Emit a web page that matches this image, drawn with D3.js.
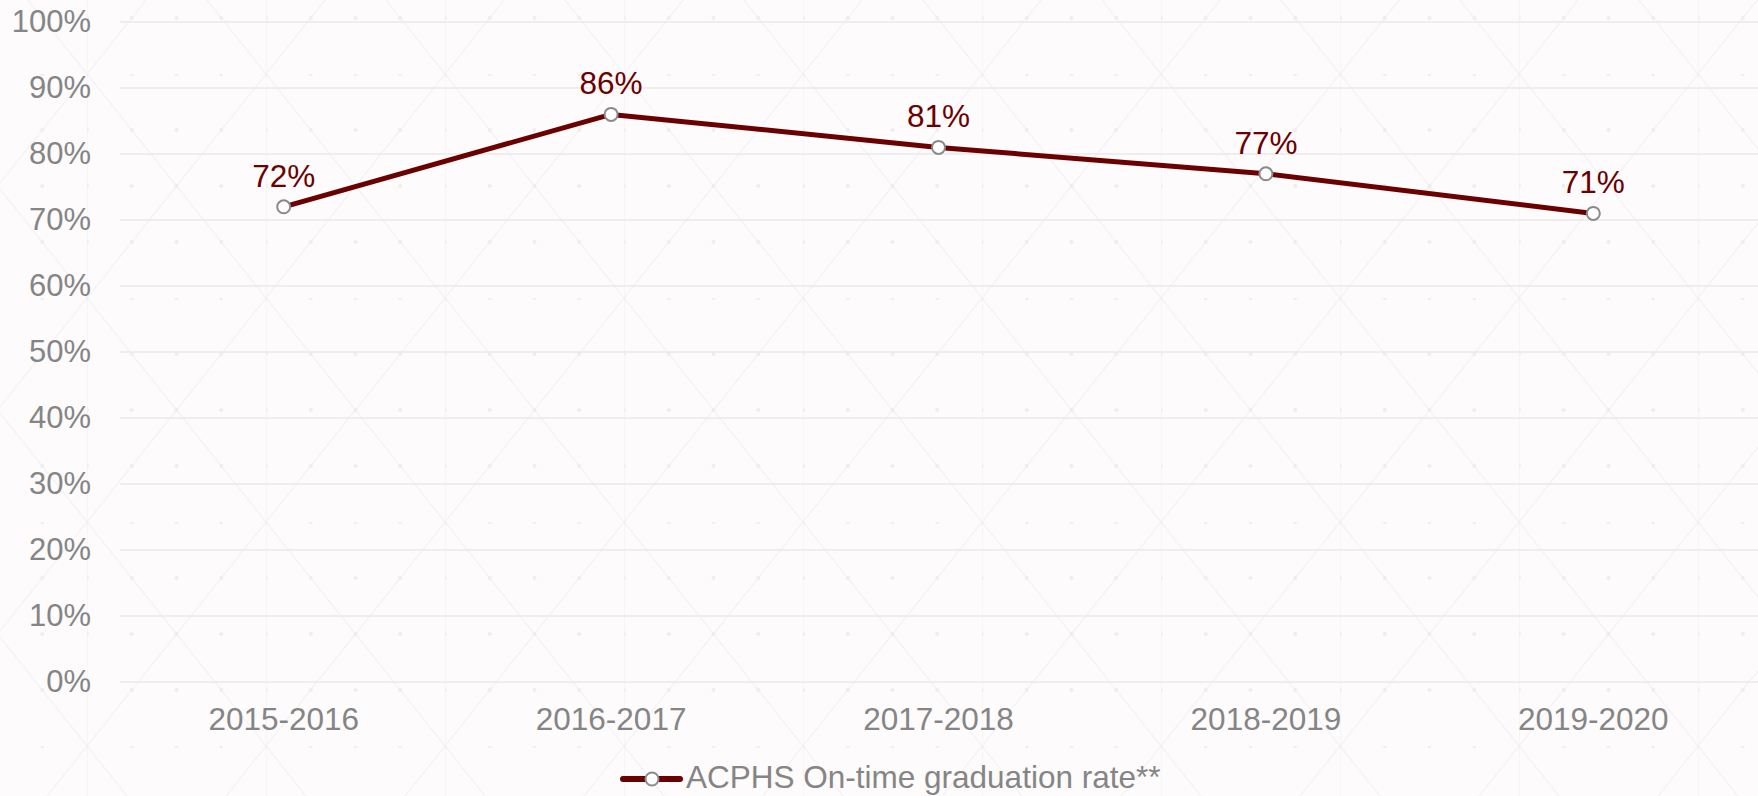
<!DOCTYPE html>
<html lang="en">
<head>
    <meta charset="UTF-8">
    <title>ACPHS On-time graduation rate</title>
    <script src="https://d3js.org/d3.v7.min.js"></script>
    <style>
        html, body { margin: 0; padding: 0; background: #fdfbfc; }
        svg { display: block; font-family: "Liberation Sans", Arial, sans-serif; }
    </style>
</head>
<body>
    <svg width="1758" height="796"></svg>
    <script>
        // data
        const years = ["2015-2016", "2016-2017", "2017-2018", "2018-2019", "2019-2020"];
        const rates = [72, 86, 81, 77, 71];
        const yTicks = [0, 10, 20, 30, 40, 50, 60, 70, 80, 90, 100];
        const seriesName = "ACPHS On-time graduation rate**";

        const svg = d3.select("svg"),
              W = +svg.attr("width"),
              H = +svg.attr("height"),
              margin = {top: 22, right: 1, bottom: 114, left: 120};

        const lineColor = "#6b0000",
              textGray = "#858585";

        // faint decorative background
        const defs = svg.append("defs");
        const pat = defs.append("pattern")
            .attr("id", "bgpat")
            .attr("patternUnits", "userSpaceOnUse")
            .attr("x", 87).attr("y", 74)
            .attr("width", 179).attr("height", 224);
        pat.append("rect").attr("width", 179).attr("height", 224).attr("fill", "#fdfbfc");
        pat.append("path")
            .attr("d", "M0,0L179,224M179,0L0,224M0,0V224")
            .attr("stroke", "#f5f2f5").attr("stroke-width", 1.2).attr("fill", "none");
        for (let i = 0; i < 4; i++) {
            for (let j = 0; j < 4; j++) {
                pat.append("circle")
                    .attr("cx", i * 44.75).attr("cy", j * 56)
                    .attr("r", 2).attr("fill", "#f0edf0");
            }
        }
        svg.append("rect").attr("width", W).attr("height", H).attr("fill", "url(#bgpat)");

        const x = d3.scaleBand()
            .domain(years)
            .range([margin.left, W - margin.right]);

        const y = d3.scaleLinear()
            .domain([0, 100])
            .range([H - margin.bottom, margin.top]);

        // grid lines
        svg.append("g")
            .selectAll("line")
            .data(yTicks)
            .join("line")
            .attr("x1", margin.left)
            .attr("x2", W)
            .attr("y1", d => y(d))
            .attr("y2", d => y(d))
            .attr("stroke", "#ebe9eb")
            .attr("stroke-width", 1.5);

        // y axis labels
        const yAxis = d3.axisLeft(y).tickValues(yTicks).tickFormat(d => d + "%").tickSize(0).tickPadding(29);
        const gy = svg.append("g")
            .attr("transform", `translate(${margin.left},0)`)
            .call(yAxis);
        gy.select(".domain").remove();
        gy.selectAll("text")
            .attr("fill", textGray)
            .style("font-size", "31px")
            .style("font-family", "'Liberation Sans', Arial, sans-serif");

        // x axis labels
        const xAxis = d3.axisBottom(x).tickSize(0).tickPadding(26);
        const gx = svg.append("g")
            .attr("transform", `translate(0,${H - margin.bottom})`)
            .call(xAxis);
        gx.select(".domain").remove();
        gx.selectAll("text")
            .attr("fill", textGray)
            .style("font-size", "31.5px")
            .style("font-family", "'Liberation Sans', Arial, sans-serif");

        const cx = d => x(d) + x.bandwidth() / 2;

        // series line
        const line = d3.line()
            .x((d, i) => cx(years[i]))
            .y(d => y(d));

        svg.append("path")
            .datum(rates)
            .attr("d", line)
            .attr("fill", "none")
            .attr("stroke", lineColor)
            .attr("stroke-width", 5)
            .attr("stroke-linejoin", "round");

        svg.append("g")
            .selectAll("circle")
            .data(rates)
            .join("circle")
            .attr("cx", (d, i) => cx(years[i]))
            .attr("cy", d => y(d))
            .attr("r", 6.5)
            .attr("fill", "#fff")
            .attr("stroke", "#8a8a8a")
            .attr("stroke-width", 2);

        // value labels
        svg.append("g")
            .selectAll("text")
            .data(rates)
            .join("text")
            .attr("x", (d, i) => cx(years[i]))
            .attr("y", d => y(d) - 20)
            .attr("text-anchor", "middle")
            .attr("fill", lineColor)
            .style("font-size", "31.5px")
            .text(d => d + "%");

        // legend
        const lg = svg.append("g").attr("transform", "translate(623,779)");
        lg.append("line")
            .attr("x1", 0).attr("x2", 57)
            .attr("stroke", lineColor)
            .attr("stroke-width", 6)
            .attr("stroke-linecap", "round");
        lg.append("circle")
            .attr("cx", 29).attr("r", 6.5)
            .attr("fill", "#fff")
            .attr("stroke", "#8a8a8a")
            .attr("stroke-width", 2);
        lg.append("text")
            .attr("x", 63)
            .attr("y", 9)
            .attr("fill", textGray)
            .style("font-size", "31.5px")
            .text(seriesName);
    </script>
</body>
</html>
